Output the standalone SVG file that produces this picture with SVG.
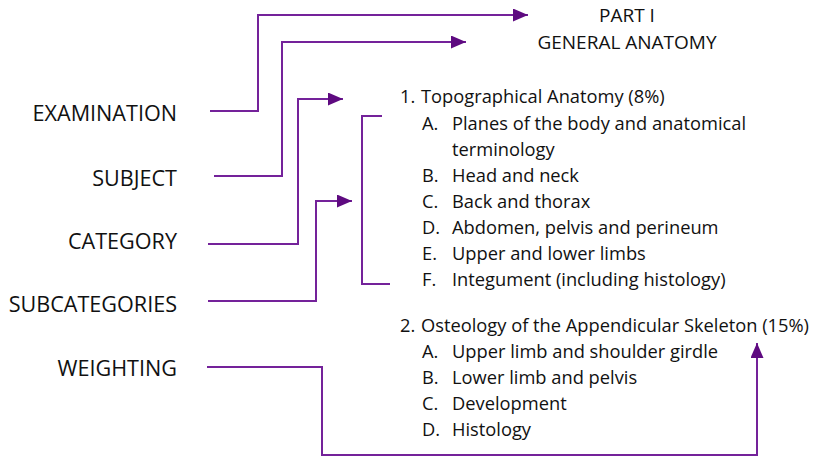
<svg xmlns="http://www.w3.org/2000/svg" width="817" height="456" viewBox="0 0 817 456">
<style>
  .lbl { font-family: "Open Sans", "Noto Sans", sans-serif; font-size: 21.6px; fill: #111; text-anchor: end; }
  .ttl { font-family: "Open Sans", "Noto Sans", sans-serif; font-size: 19px; fill: #111; text-anchor: middle; }
  .txt { font-family: "Open Sans", "Noto Sans", sans-serif; font-size: 18.3px; fill: #111; }
  .con { fill: none; stroke: #74229a; stroke-width: 2; }
</style>
<defs>
  <marker id="arr" markerUnits="userSpaceOnUse" markerWidth="16" markerHeight="14" refX="15" refY="6.5" orient="auto">
    <path d="M0,0 L15,6.5 L0,13 z" fill="#5e0a80"/>
  </marker>
</defs>
<g id="connectors">
  <path class="con" d="M210 111 H258 V15 H528" marker-end="url(#arr)"/>
  <path class="con" d="M214 176 H282 V42 H466" marker-end="url(#arr)"/>
  <path class="con" d="M208 244 H298 V99 H343" marker-end="url(#arr)"/>
  <path class="con" d="M208 301 H316 V201 H352" marker-end="url(#arr)"/>
  <path class="con" d="M207 367 H322 V455 H757 V343" marker-end="url(#arr)"/>
  <path class="con" d="M382 116 H362 V284 H390"/>
</g>
<g id="examination"><text class="lbl" x="177" y="121">EXAMINATION</text></g>
<g id="subject"><text class="lbl" x="177" y="186">SUBJECT</text></g>
<g id="category"><text class="lbl" x="177" y="249">CATEGORY</text></g>
<g id="subcategories"><text class="lbl" x="177" y="312">SUBCATEGORIES</text></g>
<g id="weighting"><text class="lbl" x="177" y="376">WEIGHTING</text></g>
<g id="title">
  <text class="ttl" x="627" y="22">PART I</text>
  <text class="ttl" x="627" y="49">GENERAL ANATOMY</text>
</g>
<g id="category1">
  <text class="txt" x="400" y="103">1.</text><text class="txt" x="421" y="103">Topographical Anatomy (8%)</text>
  <text class="txt" x="422" y="130">A.</text><text class="txt" x="452" y="130">Planes of the body and anatomical</text>
  <text class="txt" x="452" y="156">terminology</text>
  <text class="txt" x="422" y="182">B.</text><text class="txt" x="452" y="182">Head and neck</text>
  <text class="txt" x="422" y="208">C.</text><text class="txt" x="452" y="208">Back and thorax</text>
  <text class="txt" x="422" y="234">D.</text><text class="txt" x="452" y="234">Abdomen, pelvis and perineum</text>
  <text class="txt" x="422" y="260">E.</text><text class="txt" x="452" y="260">Upper and lower limbs</text>
  <text class="txt" x="422" y="286">F.</text><text class="txt" x="452" y="286">Integument (including histology)</text>
</g>
<g id="category2">
  <text class="txt" x="400" y="332">2.</text><text class="txt" x="421" y="332">Osteology of the Appendicular Skeleton (15%)</text>
  <text class="txt" x="422" y="358">A.</text><text class="txt" x="452" y="358">Upper limb and shoulder girdle</text>
  <text class="txt" x="422" y="384">B.</text><text class="txt" x="452" y="384">Lower limb and pelvis</text>
  <text class="txt" x="422" y="410">C.</text><text class="txt" x="452" y="410">Development</text>
  <text class="txt" x="422" y="436">D.</text><text class="txt" x="452" y="436">Histology</text>
</g>
</svg>
